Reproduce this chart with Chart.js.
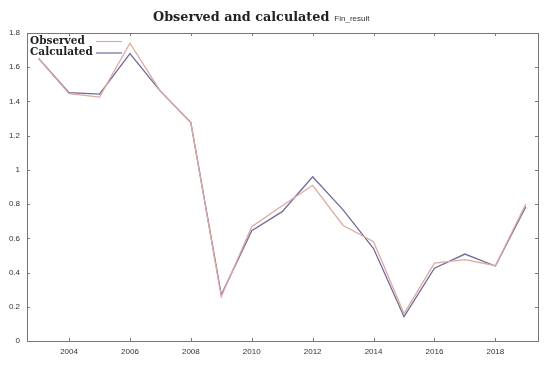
<!DOCTYPE html>
<html>
<head>
<meta charset="utf-8">
<script src="https://cdn.jsdelivr.net/npm/chart.js@4"></script>
<style>
  html, body { margin: 0; padding: 0; background: #fff; }
  #wrap { position: relative; width: 550px; height: 367px; }
  #title { position: absolute; left: 153px; top: 9px; font: bold 12.8px "DejaVu Serif", serif; color: #222; white-space: nowrap; }
  #title span { font: 8px "Liberation Sans", sans-serif; margin-left: 5px; color: #333; }
</style>
</head>
<body>
<div id="wrap">
  <canvas id="graph_canva" width="550" height="367"></canvas>
  <div id="title">Observed and calculated<span>Fin_result</span></div>
</div>
<script>
// X-Axis (years)
var years = [2003, 2004, 2005, 2006, 2007, 2008, 2009, 2010, 2011, 2012, 2013, 2014, 2015, 2016, 2017, 2018, 2019];

// Y-Axis
var observed   = [1.65, 1.445, 1.425, 1.74, 1.46, 1.275, 0.26, 0.668, 0.79, 0.91, 0.675, 0.58, 0.16, 0.455, 0.475, 0.44, 0.80];
var calculated = [1.652, 1.451, 1.443, 1.68, 1.46, 1.276, 0.27, 0.645, 0.756, 0.96, 0.766, 0.54, 0.142, 0.425, 0.508, 0.438, 0.785];

var x_ticks = [2004, 2006, 2008, 2010, 2012, 2014, 2016, 2018];

function pairs( ys ){
    var out = [];
    for( var i = 0; i < years.length; i++ ){
        out.push( { x: years[i], y: ys[i] } );
    }
    return out;
}

// Box, inward tick marks and key drawn on top of the chart
var frame_plugin = {
    id: 'frame',
    afterDraw: function( chart ){
        var ctx = chart.ctx;
        var a = chart.chartArea;
        var xs = chart.scales.x, ys = chart.scales.y;
        ctx.save();
        ctx.strokeStyle = '#777';
        ctx.lineWidth = 1;
        ctx.strokeRect( a.left + 0.5, a.top + 0.5, a.right - a.left, a.bottom - a.top );
        ctx.beginPath();
        xs.ticks.forEach(function( t ){
            var px = Math.round( xs.getPixelForValue( t.value ) ) + 0.5;
            ctx.moveTo( px, a.bottom ); ctx.lineTo( px, a.bottom - 3 );
            ctx.moveTo( px, a.top ); ctx.lineTo( px, a.top + 3 );
        });
        ys.ticks.forEach(function( t ){
            var py = Math.round( ys.getPixelForValue( t.value ) ) + 0.5;
            ctx.moveTo( a.left, py ); ctx.lineTo( a.left + 3, py );
            ctx.moveTo( a.right, py ); ctx.lineTo( a.right - 3, py );
        });
        ctx.stroke();

        // key
        ctx.font = 'bold 10.5px "DejaVu Serif", serif';
        ctx.textBaseline = 'middle';
        chart.data.datasets.forEach(function( ds, i ){
            var y = 41 + i * 11.5;
            ctx.fillStyle = '#222';
            ctx.fillText( ds.label, 30, y );
            ctx.strokeStyle = ds.borderColor;
            ctx.lineWidth = 1.2;
            ctx.beginPath();
            ctx.moveTo( 96, y + 0.5 ); ctx.lineTo( 122, y + 0.5 );
            ctx.stroke();
        });
        ctx.restore();
    }
};

var ctx = document.getElementById('graph_canva').getContext('2d');

var _GRAPH = new Chart(ctx, {
    type: 'line',
    data: {
        datasets: [{
            label: 'Observed',
            data: pairs( observed ),
            borderColor: 'rgb(220, 170, 160)',
            borderWidth: 1.3,
            pointRadius: 0,
            fill: false,
            tension: 0
        }, {
            label: 'Calculated',
            data: pairs( calculated ),
            borderColor: 'rgb(112, 106, 152)',
            borderWidth: 1.3,
            pointRadius: 0,
            fill: false,
            tension: 0
        }]
    },
    options: {
        responsive: false,
        animation: false,
        layout: { padding: { top: 33, right: 12, left: 0, bottom: 0 } },
        plugins: {
            legend: { display: false },
            title: { display: false },
            tooltip: { enabled: false }
        },
        scales: {
            x: {
                type: 'linear',
                min: 2002.62,
                max: 2019.4,
                afterBuildTicks: function( scale ){
                    scale.ticks = x_ticks.map(function( v ){ return { value: v }; });
                },
                afterFit: function( scale ){ scale.height = 26; },
                grid: { display: false, drawTicks: false },
                border: { display: false },
                ticks: {
                    padding: 6,
                    maxRotation: 0,
                    color: '#333',
                    font: { family: 'Liberation Sans', size: 8 },
                    callback: function( v ){ return String( v ); }
                }
            },
            y: {
                min: 0,
                max: 1.8,
                afterFit: function( scale ){ scale.width = 27; },
                grid: { display: false, drawTicks: false },
                border: { display: false },
                ticks: {
                    stepSize: 0.2,
                    padding: 7,
                    color: '#333',
                    font: { family: 'Liberation Sans', size: 8 },
                    callback: function( v ){ return String( Number( v.toFixed(1) ) ); }
                }
            }
        }
    },
    plugins: [ frame_plugin ]
});
</script>
</body>
</html>
